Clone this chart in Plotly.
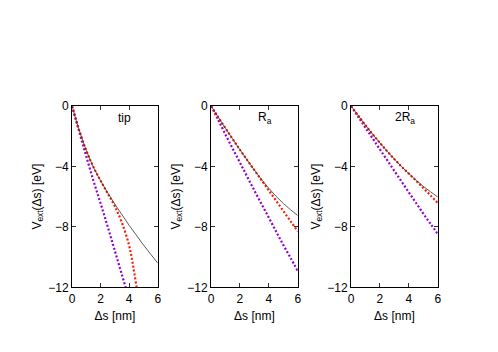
import plotly.graph_objects as go

# ---- data ----
s_grid = [0, 0.5, 1, 1.5, 2, 2.5, 3, 3.5, 4, 4.5, 5, 5.5, 6]

# panel "tip"
tip_black = [0, -1.6, -2.95, -4.05, -4.95, -5.75, -6.5, -7.2, -7.9, -8.55, -9.2, -9.8, -10.4]
tip_red_s = [0, 0.5, 1, 1.5, 2, 2.5, 3, 3.5, 4, 4.25, 4.5, 4.75]
tip_red = [0, -1.6, -2.95, -4.05, -4.95, -5.8, -6.65, -7.75, -9.25, -10.45, -11.9, -13.5]
tip_purple_s = [0, 0.5, 1, 1.5, 2, 2.5, 3, 3.5, 4]
tip_purple = [0, -1.7, -3.35, -4.95, -6.45, -8.0, -9.6, -11.2, -12.8]

# panel "Ra"
ra_black = [0, -0.75, -1.48, -2.2, -2.9, -3.58, -4.25, -4.88, -5.45, -5.98, -6.45, -6.87, -7.25]
ra_red = [0, -0.75, -1.48, -2.2, -2.9, -3.58, -4.25, -4.92, -5.6, -6.27, -6.95, -7.62, -8.3]
ra_purple = [0, -0.93, -1.9, -2.83, -3.75, -4.68, -5.6, -6.5, -7.4, -8.3, -9.2, -10.05, -10.93]

# panel "2Ra"
r2_black = [0, -0.65, -1.28, -1.88, -2.45, -3.0, -3.52, -4.02, -4.48, -4.92, -5.32, -5.68, -6.02]
r2_red = [0, -0.65, -1.28, -1.88, -2.45, -3.0, -3.52, -4.02, -4.48, -4.95, -5.43, -5.92, -6.42]
r2_purple = [0, -0.72, -1.45, -2.16, -2.88, -3.59, -4.3, -5.01, -5.72, -6.42, -7.13, -7.8, -8.47]

panel_labels = ["tip", "R<sub>a</sub>", "2R<sub>a</sub>"]
x_title = "Δs [nm]"
y_title = "V<sub>ext</sub>(Δs) [eV]"
x_ticks = [0, 2, 4, 6]
y_ticks = [0, -4, -8, -12]

W, H = 498, 352
x_dom_px = [(70, 157), (211, 299), (353, 441)]
y_top_px, y_bot_px = 103, 292

BLACK = "#333333"
RED = "#ff1a00"
PURPLE = "#9400d3"
DASH = "2px,2px"

fig = go.Figure()

panels = [
    (s_grid, tip_black, tip_red_s, tip_red, tip_purple_s, tip_purple),
    (s_grid, ra_black, s_grid, ra_red, s_grid, ra_purple),
    (s_grid, r2_black, s_grid, r2_red, s_grid, r2_purple),
]

for i, (sb, yb, sr, yr, sp, yp) in enumerate(panels):
    xa = "x" if i == 0 else f"x{i+1}"
    ya = "y" if i == 0 else f"y{i+1}"
    fig.add_trace(go.Scatter(x=sp, y=yp, mode="lines", xaxis=xa, yaxis=ya,
                             line=dict(color=PURPLE, width=2.2, dash=DASH, shape="spline"),
                             showlegend=False))
    fig.add_trace(go.Scatter(x=sr, y=yr, mode="lines", xaxis=xa, yaxis=ya,
                             line=dict(color=RED, width=2.2, dash=DASH, shape="spline"),
                             showlegend=False))
    fig.add_trace(go.Scatter(x=sb, y=yb, mode="lines", xaxis=xa, yaxis=ya,
                             line=dict(color=BLACK, width=0.8, shape="spline"),
                             showlegend=False))

font = dict(family="Liberation Sans, Arial, sans-serif", size=12, color="black")

layout = dict(
    width=W, height=H,
    margin=dict(l=0, r=0, t=0, b=0),
    paper_bgcolor="white", plot_bgcolor="white",
    font=font,
    showlegend=False,
)

ann = []
for i, (x0, x1) in enumerate(x_dom_px):
    key = "" if i == 0 else str(i + 1)
    layout["xaxis" + key] = dict(
        domain=[x0 / W, x1 / W], range=[0, 6], tickvals=x_ticks,
        ticks="inside", ticklen=4, tickcolor="black", tickwidth=0.8,
        showline=True, linecolor="black", linewidth=1, mirror="ticks",
        showgrid=False, zeroline=False, anchor="y" + key,
        tickfont=font,
        title=dict(text=x_title, font=font, standoff=6),
    )
    layout["yaxis" + key] = dict(
        domain=[1 - y_bot_px / H, 1 - y_top_px / H], range=[-12, 0], tickvals=y_ticks,
        ticks="inside", ticklen=4, tickcolor="black", tickwidth=0.8,
        showline=True, linecolor="black", linewidth=1, mirror="ticks",
        showgrid=False, zeroline=False, anchor="x" + key,
        tickfont=font,
        title=dict(text=y_title, font=font, standoff=4),
    )
    ann.append(dict(x=3.7, y=-0.8, xref="x" + key, yref="y" + key, text=panel_labels[i],
                    showarrow=False, font=font, xanchor="center", yanchor="middle"))

layout["annotations"] = ann
fig.update_layout(**layout)
fig.write_html("out.html", config={"displayModeBar": False, "staticPlot": True},
               post_script="document.body.style.margin='0px';document.body.style.padding='0px';")
